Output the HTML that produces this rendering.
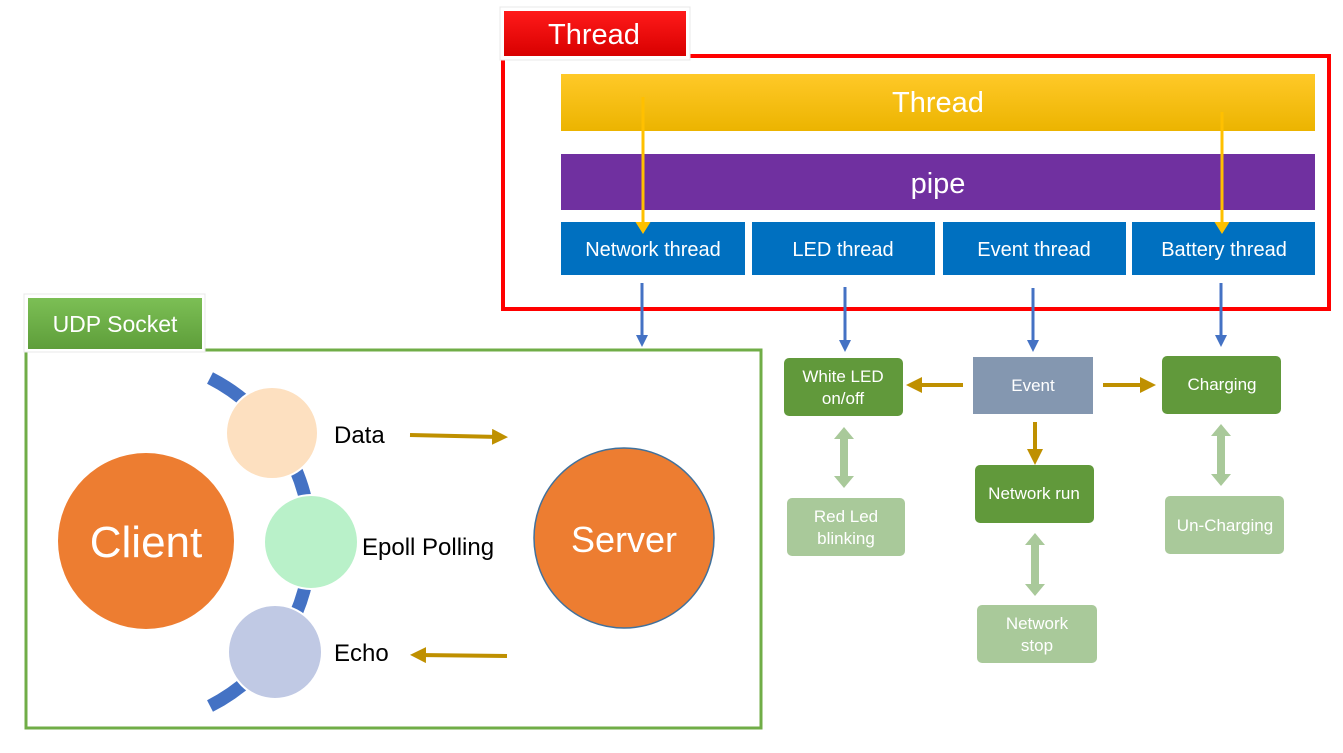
<!DOCTYPE html>
<html><head><meta charset="utf-8"><style>
html,body{margin:0;padding:0;background:#fff;}
svg{display:block;font-family:"Liberation Sans",sans-serif;}
</style></head><body>
<svg width="1343" height="753" viewBox="0 0 1343 753" xmlns="http://www.w3.org/2000/svg">
<defs>
<linearGradient id="gy" x1="0" y1="0" x2="0" y2="1"><stop offset="0" stop-color="#ffc928"/><stop offset="1" stop-color="#ecb400"/></linearGradient>
<linearGradient id="gr" x1="0" y1="0" x2="0" y2="1"><stop offset="0" stop-color="#ff1a1a"/><stop offset="1" stop-color="#d80000"/></linearGradient>
<linearGradient id="gg" x1="0" y1="0" x2="0" y2="1"><stop offset="0" stop-color="#7cbf55"/><stop offset="1" stop-color="#5e9e3a"/></linearGradient>
<marker id="ay" markerWidth="4" markerHeight="5" refX="2" refY="2.5" orient="auto" markerUnits="strokeWidth"><path d="M0,0 L4,2.5 L0,5 z" fill="#ffc000"/></marker>
<marker id="ab" markerWidth="4" markerHeight="4" refX="2" refY="2" orient="auto" markerUnits="strokeWidth"><path d="M0,0 L4,2 L0,4 z" fill="#4472c4"/></marker>
<marker id="ag" markerWidth="4" markerHeight="4" refX="2" refY="2" orient="auto" markerUnits="strokeWidth"><path d="M0,0 L4,2 L0,4 z" fill="#bf9000"/></marker>
</defs>

<rect x="503" y="56" width="826" height="253" fill="none" stroke="#ff0000" stroke-width="4"/>
<rect x="500" y="7" width="190" height="53" fill="#fff" stroke="#e8e8e8"/>
<rect x="504" y="11" width="182" height="45" fill="url(#gr)"/>
<text x="594" y="44" font-size="29" fill="#fff" text-anchor="middle">Thread</text>

<rect x="561" y="74" width="754" height="57" fill="url(#gy)"/>
<text x="938" y="112" font-size="29" fill="#fff" text-anchor="middle">Thread</text>
<rect x="561" y="154" width="754" height="56" fill="#7030a0"/>
<text x="938" y="193" font-size="29" fill="#fff" text-anchor="middle">pipe</text>

<g fill="#0070c0">
<rect x="561" y="222" width="184" height="53"/>
<rect x="752" y="222" width="183" height="53"/>
<rect x="943" y="222" width="183" height="53"/>
<rect x="1132" y="222" width="183" height="53"/>
</g>
<g font-size="20" fill="#fff" text-anchor="middle">
<text x="653" y="256">Network thread</text>
<text x="843" y="256">LED thread</text>
<text x="1034" y="256">Event thread</text>
<text x="1224" y="256">Battery thread</text>
</g>
<line x1="643" y1="97" x2="643" y2="228" stroke="#ffc000" stroke-width="3" marker-end="url(#ay)"/>
<line x1="1222" y1="112" x2="1222" y2="228" stroke="#ffc000" stroke-width="3" marker-end="url(#ay)"/>

<g stroke="#4472c4" stroke-width="3">
<line x1="642" y1="283" x2="642" y2="341" marker-end="url(#ab)"/>
<line x1="845" y1="287" x2="845" y2="346" marker-end="url(#ab)"/>
<line x1="1033" y1="288" x2="1033" y2="346" marker-end="url(#ab)"/>
<line x1="1221" y1="283" x2="1221" y2="341" marker-end="url(#ab)"/>
</g>

<rect x="784" y="358" width="119" height="58" rx="5" fill="#61993b"/>
<rect x="973" y="357" width="120" height="57" fill="#8497b0"/>
<rect x="1162" y="356" width="119" height="58" rx="5" fill="#61993b"/>
<rect x="975" y="465" width="119" height="58" rx="5" fill="#61993b"/>
<rect x="787" y="498" width="118" height="58" rx="5" fill="#a9c99a"/>
<rect x="1165" y="496" width="119" height="58" rx="5" fill="#a9c99a"/>
<rect x="977" y="605" width="120" height="58" rx="5" fill="#a9c99a"/>
<g font-size="17" fill="#fff" text-anchor="middle">
<text x="843" y="382">White LED</text><text x="843" y="404">on/off</text>
<text x="1033" y="391">Event</text>
<text x="1222" y="390">Charging</text>
<text x="1034" y="499">Network run</text>
<text x="846" y="522">Red Led</text><text x="846" y="544">blinking</text>
<text x="1225" y="531">Un-Charging</text>
<text x="1037" y="629">Network</text><text x="1037" y="651">stop</text>
</g>
<g stroke="#bf9000" stroke-width="4">
<line x1="963" y1="385" x2="914" y2="385" marker-end="url(#ag)"/>
<line x1="1103" y1="385" x2="1148" y2="385" marker-end="url(#ag)"/>
<line x1="1035" y1="422" x2="1035" y2="457" marker-end="url(#ag)"/>
</g>
<g fill="#a9c99a">
<path d="M844,427 L854,439 L848,439 L848,476 L854,476 L844,488 L834,476 L840,476 L840,439 L834,439 z"/>
<path d="M1221,424 L1231,436 L1225,436 L1225,474 L1231,474 L1221,486 L1211,474 L1217,474 L1217,436 L1211,436 z"/>
<path d="M1035,533 L1045,545 L1039,545 L1039,584 L1045,584 L1035,596 L1025,584 L1031,584 L1031,545 L1025,545 z"/>
</g>

<rect x="26" y="350" width="735" height="378" fill="none" stroke="#70ad47" stroke-width="3"/>
<rect x="24" y="294" width="181" height="58" fill="#fff" stroke="#e8e8e8"/>
<rect x="28" y="298" width="174" height="51" fill="url(#gg)"/>
<text x="115" y="332" font-size="23" fill="#fff" text-anchor="middle">UDP Socket</text>

<circle cx="146" cy="541" r="88" fill="#ed7d31"/>
<text x="146" y="557" font-size="44" fill="#fff" text-anchor="middle">Client</text>
<circle cx="624" cy="538" r="90" fill="#ed7d31" stroke="#41719c" stroke-width="1.5"/>
<text x="624" y="552" font-size="36" fill="#fff" text-anchor="middle">Server</text>

<path d="M210,378 A184,184 0 0 1 210,706" fill="none" stroke="#4472c4" stroke-width="13"/>
<circle cx="272" cy="433" r="46" fill="#fde0c0" stroke="#fff" stroke-width="2"/>
<circle cx="311" cy="542" r="47" fill="#b9f1c9" stroke="#fff" stroke-width="2"/>
<circle cx="275" cy="652" r="47" fill="#c0c9e4" stroke="#fff" stroke-width="2"/>
<g font-size="24" fill="#000">
<text x="334" y="443">Data</text>
<text x="362" y="555">Epoll Polling</text>
<text x="334" y="661">Echo</text>
</g>
<g stroke="#bf9000" stroke-width="4">
<line x1="410" y1="435" x2="500" y2="437" marker-end="url(#ag)"/>
<line x1="507" y1="656" x2="418" y2="655" marker-end="url(#ag)"/>
</g>
</svg>
</body></html>
